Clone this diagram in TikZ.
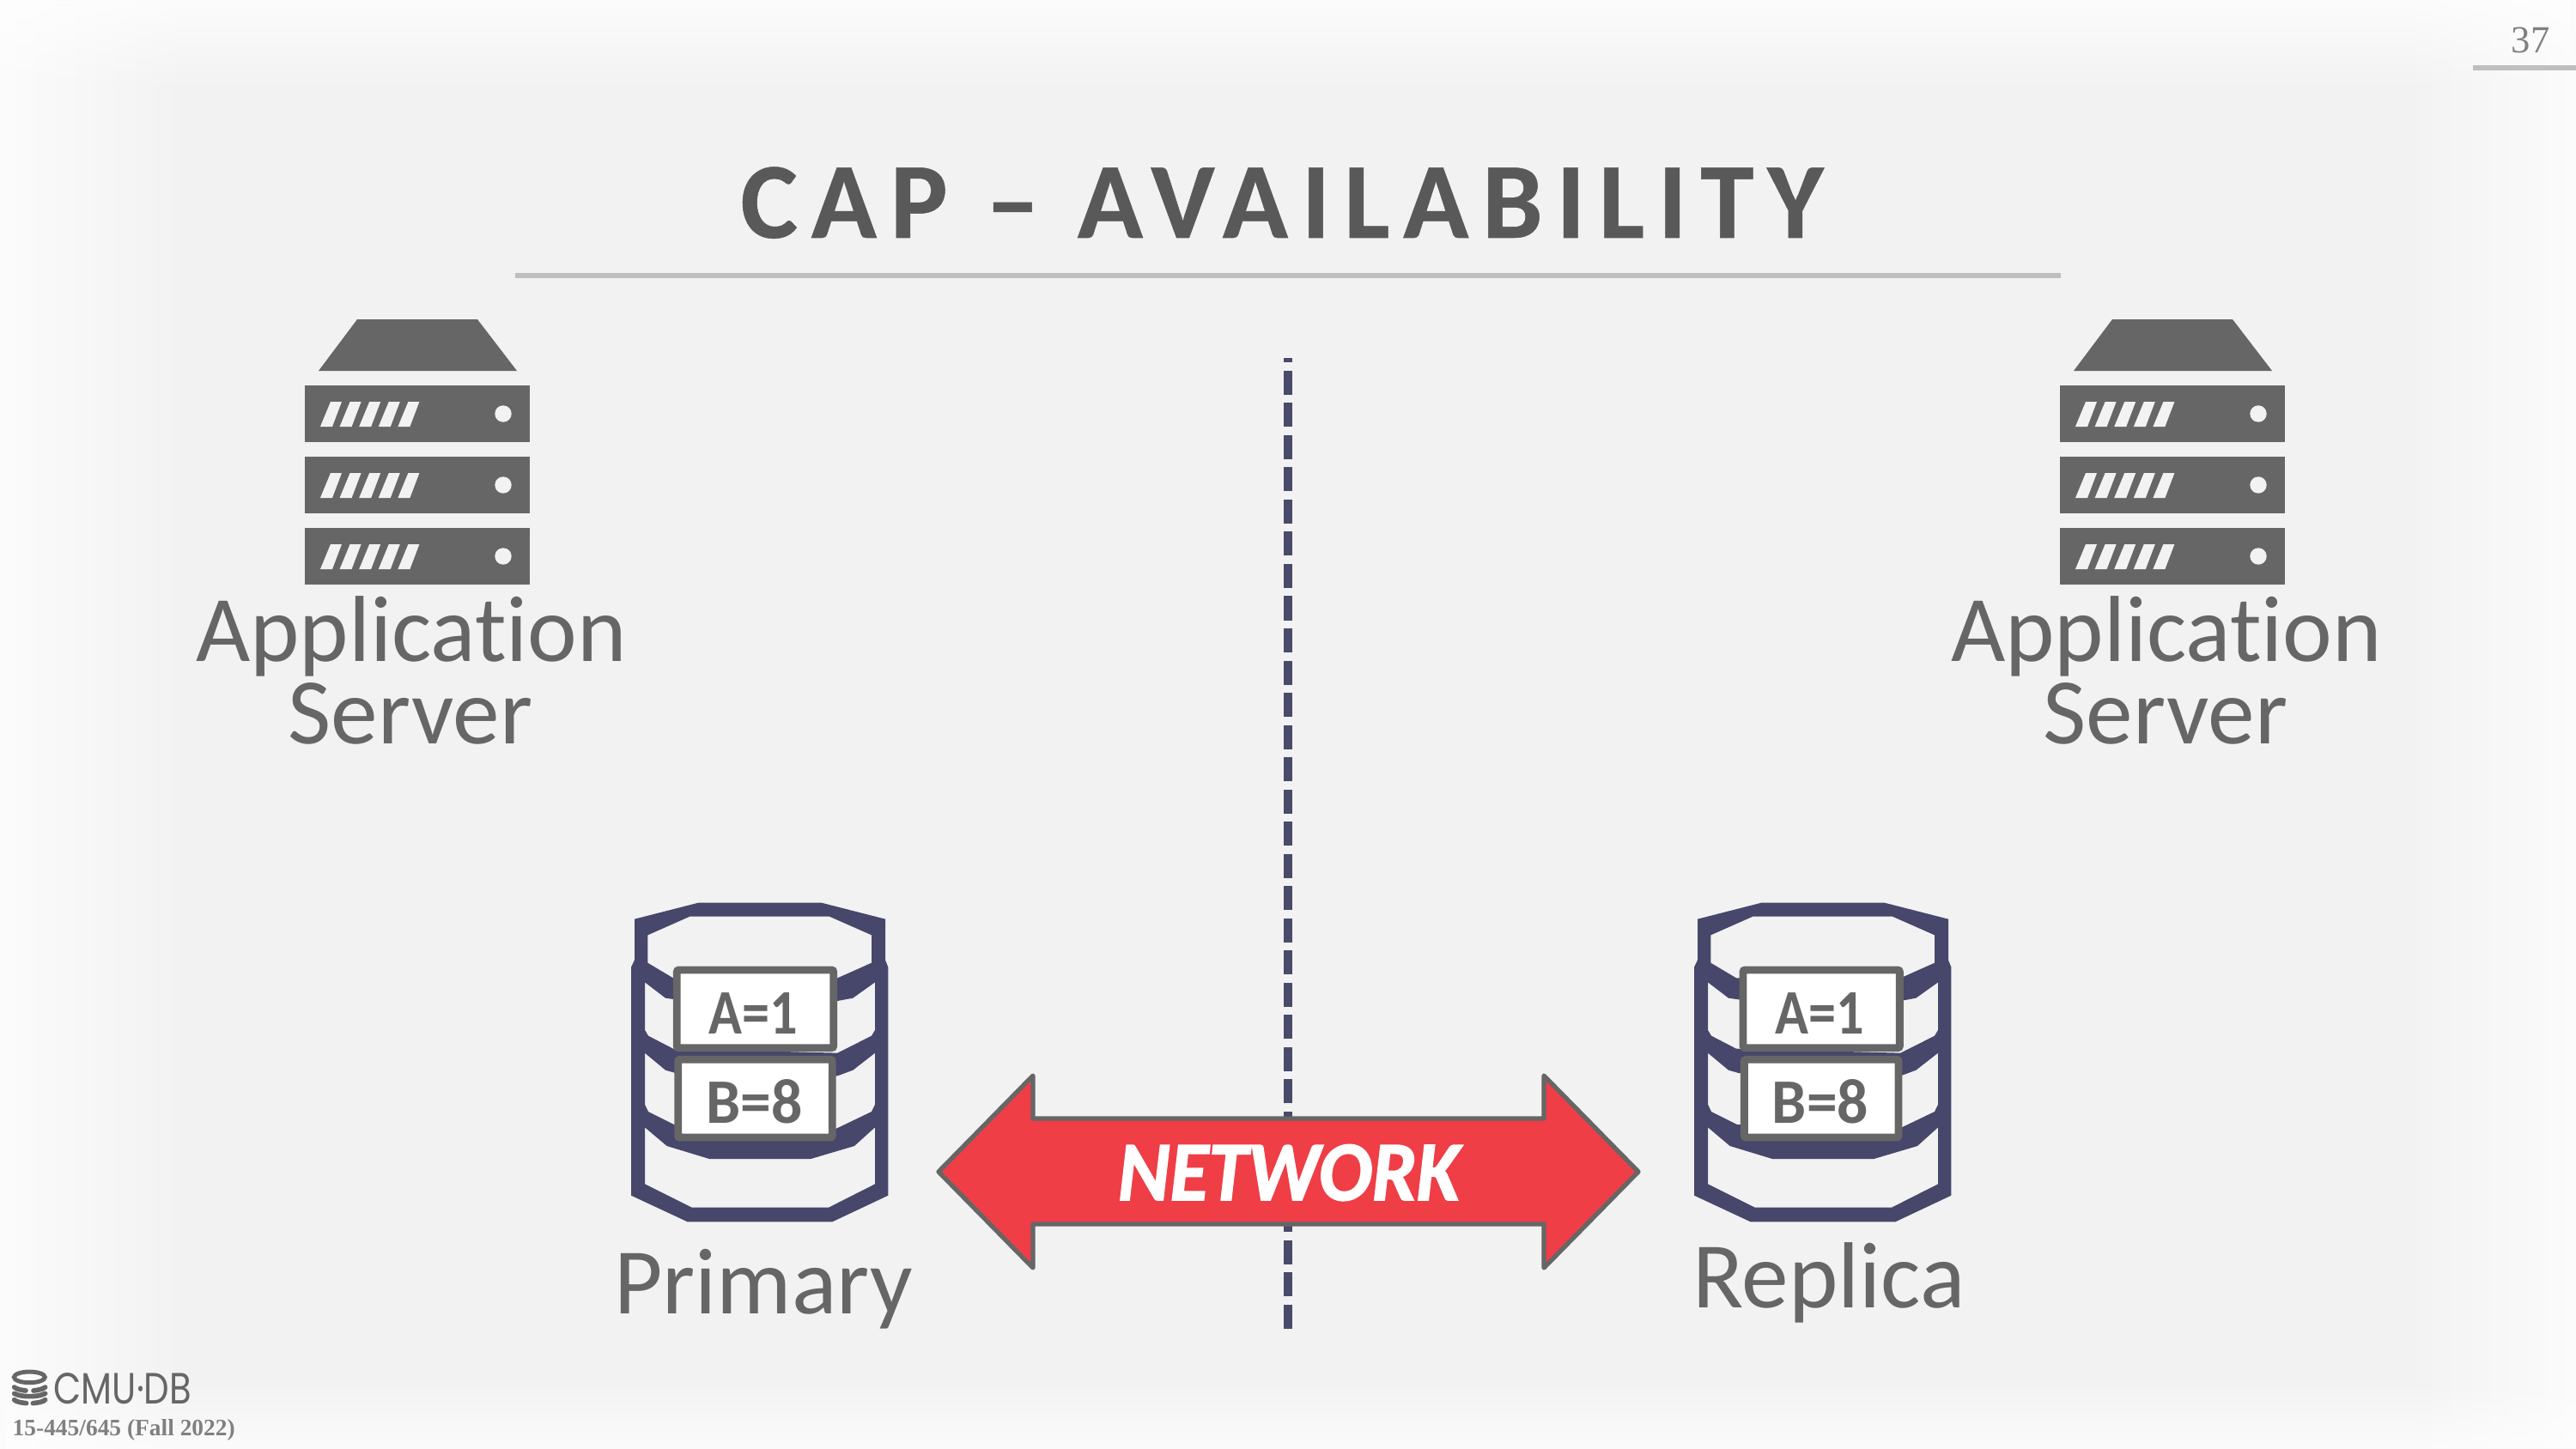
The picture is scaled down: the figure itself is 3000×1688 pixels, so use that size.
\documentclass[tikz,border=0pt]{standalone}
\usepackage{fontspec}
\setmainfont[Ligatures=NoCommon]{Carlito}
\newfontfamily\serifface{Liberation Serif}
\newfontfamily\titleface[LetterSpace=12.5,Ligatures=NoCommon,FakeBold=0.4]{Carlito}
\newfontfamily\logoface{Poppins}
\newfontfamily\netface[FakeBold=1.8]{Carlito}
\usetikzlibrary{fadings}
\definecolor{bgc}{HTML}{F2F2F2}
\definecolor{ink}{HTML}{595959}
\definecolor{icon}{HTML}{666666}
\definecolor{dbc}{HTML}{47476B}
\definecolor{dashc}{HTML}{4A4A6A}
\definecolor{rulec}{HTML}{BFBFBF}
\definecolor{netc}{HTML}{EF3E46}
\tikzfading[name=fadeh, left color=transparent!0, right color=transparent!100]
\tikzfading[name=fadev, top color=transparent!0, bottom color=transparent!100]
\tikzset{
  x=0.01cm, y=-0.01cm,
  lab/.style={anchor=base, inner sep=0pt, text=icon, font=\fontsize{31.1}{38}\selectfont},
  valbox/.style={draw=icon, fill=white, line width=2.5pt, rounded corners=0.6pt},
  valtxt/.style={inner sep=0pt, anchor=base, text=icon, font=\fontsize{21}{24}\selectfont\bfseries},
  rulel/.style={draw=rulec, line width=1.7pt},
  logoline/.style={icon, line width=1.6pt, line cap=round},
  pics/server/.style={code={
    \fill[icon] (416,372)--(556,372)--(602,432)--(371,432)--cycle;
    \foreach \ty in {449,532,615}{
      \fill[icon] (355,\ty) rectangle (617,\ty+66);
      \foreach \k in {0,1,2,3,4}{
        \fill[bgc] (373+\k*22.6,\ty+48)--(387+\k*22.6,\ty+48)--(398+\k*22.6,\ty+19)--(385+\k*22.6,\ty+19)--cycle;
      }
      \fill[bgc] (586,\ty+33) circle[radius=9.7];
    }
  }},
  pics/dbase/.style={code={
    \begin{scope}[x=0.01cm/3, y=-0.01cm/3]
    \fill[dbc, even odd rule]
      (117,122)--(340,65)--(770,65)--(993,122)--(993,265)--(1003,290)--(1003,1088)--(808,1180)--(302,1180)--(105,1088)--(105,290)--(117,265)--cycle
      (163,178)--(310,113)--(798,113)--(945,178)--(945,275)--(826,328)--(252,328)--(163,275)--cycle
      (153,343)--(225,398)--(260,403)--(826,408)--(880,398)--(957,343)--(957,510)--(945,530)--(826,590)--(252,575)--(165,530)--(153,510)--cycle
      (153,590)--(225,650)--(260,660)--(826,670)--(880,650)--(957,590)--(957,770)--(945,795)--(820,855)--(255,840)--(165,795)--(153,770)--cycle
      (153,850)--(230,915)--(378,960)--(733,960)--(885,915)--(957,850)--(957,1048)--(795,1130)--(317,1130)--(153,1048)--cycle;
    \begin{scope}[xshift=#1*0.01cm/3]
    \draw[valbox] (265,300) rectangle (812,572);
    \draw[valbox] (269,613) rectangle (808,885);
    \node[valtxt, xscale=0.87] (a) at (532,522) {A=1};
    \node[valtxt, xscale=0.97] (b) at (535,835) {B=8};
    \end{scope}
    \end{scope}
  }}
}
\begin{document}
\begin{tikzpicture}
\useasboundingbox (0,0) rectangle (3000,1688);
\fill[bgc] (0,0) rectangle (3000,1688);
% soft white border
\fill[white, path fading=fadeh] (-75,0) rectangle (225,1688);
\fill[white, path fading=fadeh, fading angle=180] (2790,0) rectangle (3075,1688);
\fill[white, path fading=fadev] (0,-36) rectangle (3000,108);
\fill[white, path fading=fadev, fading angle=180] (0,1608) rectangle (3000,1722);
% title
\node[anchor=base, inner sep=0pt, text=ink, font=\fontsize{35.8}{40}\selectfont\titleface\bfseries] (title) at (1493,277) {CAP – AVAILABILITY};
\coordinate (ruleA) at (600,321); \coordinate (ruleB) at (2400,321);
\draw[rulel] (ruleA) -- (ruleB);
% page number
\node[anchor=base, inner sep=0pt, text=gray, font=\fontsize{12.7}{14}\selectfont\serifface] (page) at (2947,62) {37};
\coordinate (pgA) at (2880,79); \coordinate (pgB) at (3000,79);
\draw[rulel] (pgA) -- (pgB);
% partition
\coordinate (cutA) at (1500,417); \coordinate (cutB) at (1500,1548);
\draw[dashc, line width=2.73pt, dash pattern=on 7.97pt off 2.70pt] (cutB) -- (cutA);
% servers
\pic (srvL) at (0,0) {server};
\pic (srvR) at (2044,0) {server};
\node[lab] (appL) at (479,770) {Application};
\node[lab] (srvLt) at (478,866) {Server};
\node[lab] (appR) at (2523,770) {Application};
\node[lab] (srvRt) at (2522,866) {Server};
% databases
\pic (dbL) at (700,1030) {dbase=0};
\pic (dbR) at (1938,1030) {dbase=11};
\node[lab] (prim) at (889,1530) {Primary};
\node[lab] (repl) at (2130,1523) {Replica};
% network arrow
\draw[draw=icon, fill=netc, line width=1.5pt, line join=round]
  (1093,1365)--(1203,1253)--(1203,1303)--(1798,1303)--(1798,1253)--(1908,1365)--(1798,1477)--(1798,1426)--(1203,1426)--(1203,1477)--cycle;
\node[anchor=base, inner sep=0pt, xscale=0.937, text=white, font=\fontsize{28}{32}\selectfont\netface\bfseries\itshape] (net) at (1501,1398) {NETWORK};
% footer logo
\begin{scope}[shift={(0,1560)}, x=0.01cm/3, y=-0.01cm/3]
  \draw[icon, line width=1.4pt] (103,133) ellipse[x radius=54, y radius=19];
  \draw[logoline] (50,168) .. controls (60,176) and (75,178) .. (90,180);
  \draw[logoline] (117,180) .. controls (132,178) and (148,176) .. (158,168);
  \draw[logoline] (50,190) .. controls (65,198) and (85,200) .. (103,200) .. controls (121,200) and (142,198) .. (158,190);
  \draw[logoline] (50,212) .. controls (58,220) and (75,222) .. (92,224);
  \draw[logoline] (115,224) .. controls (132,222) and (150,220) .. (158,212);
\end{scope}
\node[anchor=base west, inner sep=0pt, xscale=0.82, text=icon, font=\fontsize{14.5}{16}\selectfont\logoface] (logo) at (62,1635) {CMU·DB};
\node[anchor=base west, inner sep=0pt, text=gray, font=\fontsize{7.8}{9}\selectfont\serifface\bfseries] (course) at (14,1672) {15-445/645 (Fall 2022)};
\end{tikzpicture}
\end{document}
